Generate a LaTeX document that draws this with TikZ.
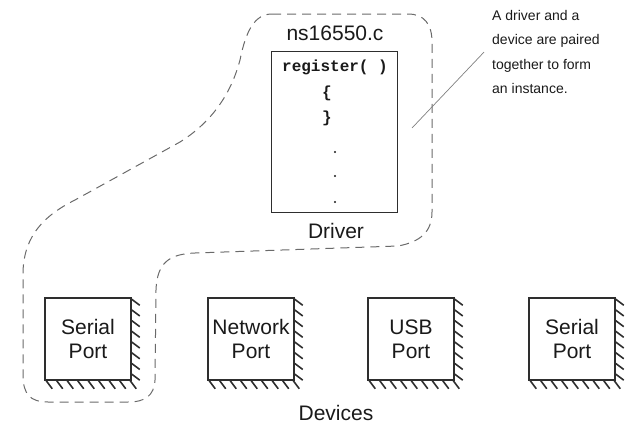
\documentclass[tikz,border=0pt]{standalone}
\usepackage{fontspec}
\setmainfont{Liberation Sans}
\setmonofont{Liberation Mono}
\usetikzlibrary{positioning}

\begin{document}
\begin{tikzpicture}[x=1pt, y=-1pt]
    % Define colours
    \definecolor{lineColour}{HTML}{2E2E2E}
    \definecolor{dashColour}{HTML}{6A6A6A}
    \definecolor{textColour}{HTML}{1A1A1A}

    % Define styles
    \tikzset{
        portbox/.style={draw=lineColour, line width=1.5pt, fill=white, minimum width=86pt, minimum height=82pt,
            inner sep=0pt, align=center, font=\fontsize{21}{24}\selectfont, text=textColour},
        drvbox/.style={draw=lineColour, line width=1pt, minimum width=126pt, minimum height=161pt},
        hatchline/.style={draw=lineColour, line width=1.6pt},
        biglabel/.style={font=\fontsize{21}{24}\selectfont, text=textColour, inner sep=0pt},
        codetext/.style={font=\fontsize{16}{18}\selectfont\ttfamily\bfseries, text=textColour, inner sep=0pt},
    }

    \useasboundingbox (0,0) rectangle (629,431);

    % Draw the dashed outline round the driver and the first device
    \draw[dashColour, line width=1pt, dash pattern=on 9pt off 6pt]
        (272,14) -- (408,14) .. controls (424,14) and (432,24) .. (432,42)
        -- (432,212) .. controls (432,232) and (420,242) .. (398,246)
        -- (195,253) .. controls (170,254) and (157,262) .. (156,290)
        -- (155,380) .. controls (154,396) and (145,402) .. (128,402)
        -- (48,402) .. controls (30,402) and (23,394) .. (23,375)
        -- (23,272) .. controls (24,235) and (45,215) .. (75,200)
        -- (180,142) .. controls (215,120) and (232,90) .. (240,60)
        .. controls (246,30) and (255,14) .. (272,14) -- cycle;

    % Draw the driver
    \node[biglabel] (file) at (335,33) {ns16550.c};
    \node[drvbox] (drv) at (334,131.5) {};
    \node[codetext] (reg) at (335,67) {register( )};
    \node[codetext] (open) at (327,93) {\{};
    \node[codetext] (close) at (327,118) {\}};
    \foreach \y in {152,176,202}
        \fill[textColour] (335,\y) circle (1.2pt);
    \node[biglabel] (drvlbl) at (336,231) {Driver};

    % Draw the devices
    \node[portbox] (serA) at (88,339) {Serial\\Port};
    \node[portbox] (net) at (251,339) {Network\\Port};
    \node[portbox] (usb) at (411,339) {USB\\Port};
    \node[portbox] (serB) at (572,339) {Serial\\Port};

    % Hatch the right and bottom sides of each device
    \foreach \b in {serA,net,usb,serB} {
        \foreach \i in {0,...,7}
            \draw[hatchline] (\b.north east) ++(0,2+\i*10.7) -- ++(8,6);
        \foreach \i in {0,...,8}
            \draw[hatchline] (\b.south west) ++(2+\i*10.5,0) -- ++(6,8);
    }
    \node[biglabel] (devlbl) at (336,413) {Devices};

    % Note on the pairing
    \node[font=\fontsize{14}{24.5}\selectfont, text=textColour, align=left, inner sep=0pt, anchor=north west]
        (note) at (492,10) {A driver and a\\device are paired\\together to form\\an instance.};
    \coordinate (pair) at (412,128);
    \draw[gray, line width=0.7pt] (note.west) ++(-8,0) -- (pair);

\end{tikzpicture}
\end{document}
